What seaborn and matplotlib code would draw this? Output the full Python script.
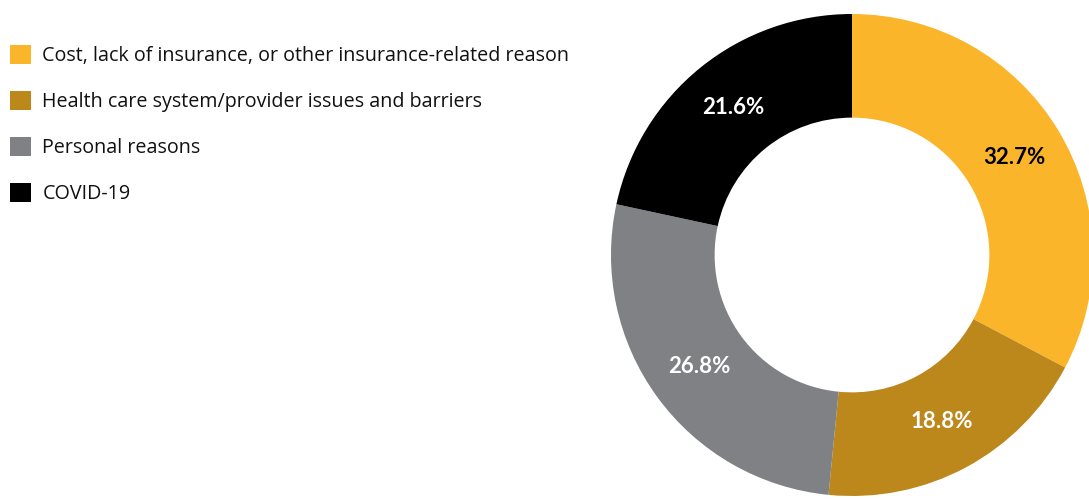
import matplotlib
matplotlib.use("Agg")
import matplotlib.pyplot as plt
from matplotlib.patches import Patch
import seaborn as sns

categories = [
    "Cost, lack of insurance, or other insurance-related reason",
    "Health care system/provider issues and barriers",
    "Personal reasons",
    "COVID-19",
]
shares = [32.7, 18.8, 26.8, 21.6]
colors = ["#FBB52A", "#BC871B", "#808184", "#000000"]
label_colors = ["#000000", "#FFFFFF", "#FFFFFF", "#FFFFFF"]

sns.set_theme(style="white")
plt.rcParams["font.family"] = ["Open Sans", "DejaVu Sans"]

W, H = 1089, 499
fig = plt.figure(figsize=(W / 100, H / 100), dpi=100)
fig.patch.set_facecolor("white")

# donut axes: centre (852, 255) px, outer radius 241 px
cx, cy, R = 852, 255, 241
ax = fig.add_axes([(cx - R) / W, (H - cy - R) / H, 2 * R / W, 2 * R / H])
ax.set_facecolor("none")

fmt = iter(f"{v:.1f}%" for v in shares)
wedges, _, pct_texts = ax.pie(
    shares,
    colors=colors,
    startangle=90,
    counterclock=False,
    radius=1.0,
    wedgeprops=dict(width=0.43, edgecolor="none"),
    autopct=lambda p: next(fmt),
    pctdistance=0.785,
)
for t, c in zip(pct_texts, label_colors):
    t.set_color(c)
    t.set_fontsize(16)
    t.set_fontweight("bold")
    t.set_fontfamily(["Lato", "DejaVu Sans"])
ax.set_xlim(-1, 1)
ax.set_ylim(-1, 1)
ax.set_aspect("equal")
ax.axis("off")

handles = [Patch(facecolor=c, edgecolor="none") for c in colors]
fig.legend(
    handles,
    categories,
    loc="upper left",
    bbox_to_anchor=(4 / W, 1 - 39 / H),
    frameon=False,
    fontsize=14.2,
    handlelength=1.05,
    handleheight=1.15,
    handletextpad=0.6,
    labelspacing=1.24,
    borderaxespad=0,
    borderpad=0.3,
    labelcolor="#111111",
)

fig.savefig("out.png", dpi=100, facecolor="white")
